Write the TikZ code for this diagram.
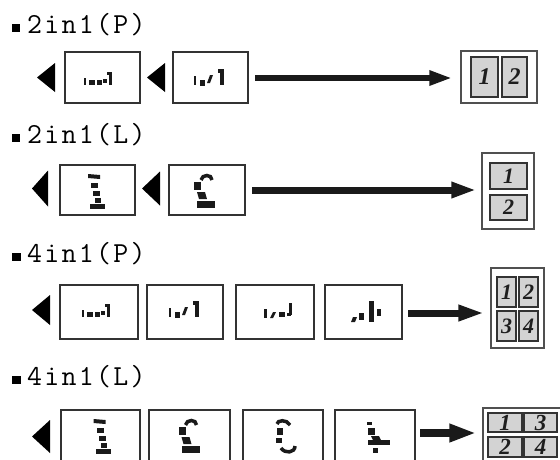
\documentclass[tikz,border=0pt]{standalone}
\usepackage{fontspec}
\setmainfont{Liberation Serif}
\newfontfamily\monof[LetterSpace=8]{Latin Modern Mono}
\usetikzlibrary{arrows.meta}
\definecolor{pagec}{HTML}{333333}
\definecolor{sheetc}{HTML}{505050}
\definecolor{panelc}{HTML}{333333}
\definecolor{panelf}{HTML}{D3D3D3}
\definecolor{numc}{HTML}{1E1E1E}
\definecolor{inkc}{HTML}{1A1A1A}

% page content marks (portrait pages)
\newcommand{\mkPone}{%
 \fill (-17,-2) rectangle (-15,5);
 \fill (-12,0) rectangle (-6,5);
 \fill (-4,0) rectangle (1,5);
 \fill (2,-1) rectangle (6,3);
 \fill (8,-8) rectangle (11,5);
 \fill (6,-8) rectangle (9,-5);}
\newcommand{\mkPtwo}{%
 \fill (-16,-4) rectangle (-14,5);
 \fill (-10,0) rectangle (-5,6);
 \fill (-3,3) -- (0,3) -- (3,-5) -- (0,-5) -- cycle;
 \fill (10,-11) rectangle (14,5);
 \fill (8,-11) rectangle (11,-7);}
\newcommand{\mkPthree}{%
 \fill (-13,-3) rectangle (-10,6);
 \fill (-7,6) -- (-4,6) -- (-1,0) -- (-4,0) -- cycle;
 \fill (2,0) rectangle (8,5);
 \fill (12,-9) rectangle (15,3);
 \fill (10,1) rectangle (14,4);}
\newcommand{\mkPfour}{%
 \fill (-13,10) -- (-9,10) -- (-7,5) -- (-11,5) -- cycle;
 \fill (-5,1) rectangle (0,8);
 \fill (5,-11) rectangle (10,10);
 \fill (13,-3) rectangle (17,4);}
% landscape page marks, relative to the top centre of the page
\newcommand{\mkLone}{%
 \fill (-7,9) -- (5,10) -- (5,14) -- (-7,13) -- cycle;
 \fill (-4,18) rectangle (3,23);
 \fill (-2,26) rectangle (5,31);
 \fill (0,33) rectangle (6,38);
 \fill (-5,39) rectangle (10,44);}
\newcommand{\mkLtwo}{%
 \draw[inkc, line width=3.5pt] (-3,15) .. controls (-2,9) and (8,9) .. (8,15);
 \fill (-10,17) rectangle (-3,25);
 \fill (-7,27) -- (1,27) -- (3,34) -- (-5,34) -- cycle;
 \fill (-7,36) rectangle (11,43);}
\newcommand{\mkLthree}{%
 \draw[inkc, line width=3.5pt] (7,15) .. controls (4,9) and (-6,10) .. (-6,14);
 \fill (-6,18) rectangle (0,25);
 \fill (-7,28) rectangle (-1,33);
 \draw[inkc, line width=3.5pt] (-2,38) .. controls (2,44) and (12,43) .. (12,36);}
\newcommand{\mkLfour}{%
 \fill (-8,12) rectangle (-3,15);
 \fill (-7,18) rectangle (0,25);
 \fill (-4,26) -- (4,26) -- (6,30) -- (-2,30) -- cycle;
 \fill (-7,30) rectangle (15,35);
 \fill (-2,38) rectangle (3,43);}
\newcommand{\lefttri}[4]{\fill[shift={(#1,#2)}] (#3,-#4/2) -- (0,0) -- (#3,#4/2) -- cycle;}

\begin{document}
\begin{tikzpicture}[x=1pt,y=-1pt,
  page/.style={draw=pagec, line width=1.4pt, fill=white, inner sep=0pt},
  sheet/.style={draw=sheetc, line width=1.5pt, fill=white, inner sep=0pt},
  panel/.style={draw=panelc, line width=1.5pt, fill=panelf, inner sep=0pt,
    text=numc, font=\bfseries\itshape\fontsize{#1}{#1}\selectfont},
  panel/.default=23,
  title/.style={anchor=base west, inner sep=0pt, font=\monof\fontsize{29}{29}\selectfont},
  bullet/.style={fill=black},
  bigarrow/.style={line width=#1, draw=inkc},
  ink/.style={fill=inkc}]
\useasboundingbox (0,0) rectangle (560,459);
\clip (0,0) rectangle (560,459);

% ---------- Row 1: 2in1(P)
\fill[bullet] (12,24) rectangle (20,32);
\node[title] (t1) at (27,33) {2in1(P)};
\lefttri{37}{77.5}{18}{29}
\node[page, minimum width=75pt, minimum height=51pt] (b11) at (102.5,77.5) {};
\lefttri{147}{77.5}{18}{29}
\node[page, minimum width=75pt, minimum height=51pt] (b12) at (210.5,77.5) {};
\begin{scope}[shift={(101,80)}, ink] \mkPone \end{scope}
\begin{scope}[shift={(210,80)}, ink] \mkPtwo \end{scope}
\node[sheet, minimum width=76pt, minimum height=52pt] (r1) at (499,77) {};
\node[panel=24, minimum width=27pt, minimum height=40pt] (r1a) at (484.5,77) {1};
\node[panel=24, minimum width=25pt, minimum height=40pt] (r1b) at (514.5,77) {2};
\coordinate (s1) at (255,78);
\coordinate (e1) at (r1.west);
\draw[bigarrow=6pt, -{Triangle[length=23pt,width=14pt]}] (s1) -- ([xshift=-8pt]e1 |- s1);

% ---------- Row 2: 2in1(L)
\fill[bullet] (12,134) rectangle (20,142);
\node[title] (t2) at (27,143) {2in1(L)};
\lefttri{32}{188.5}{16}{36}
\node[page, minimum width=75pt, minimum height=50pt] (b21) at (97.5,190) {};
\lefttri{142}{188.5}{18}{34}
\node[page, minimum width=76pt, minimum height=50pt] (b22) at (207,190) {};
\begin{scope}[shift={(95,165)}, ink] \mkLone \end{scope}
\begin{scope}[shift={(204,165)}, ink] \mkLtwo \end{scope}
\node[sheet, minimum width=52pt, minimum height=76pt] (r2) at (508,191) {};
\node[panel=22, minimum width=37pt, minimum height=26pt] (r2a) at (508.5,176) {1};
\node[panel=22, minimum width=37pt, minimum height=25pt] (r2b) at (508.5,207.5) {2};
\coordinate (s2) at (252,190);
\draw[bigarrow=7pt, -{Triangle[length=25pt,width=15pt]}] (s2) -- ([xshift=-5pt]r2.west |- s2);

% ---------- Row 3: 4in1(P)
\fill[bullet] (12,253) rectangle (21,261);
\node[title] (t3) at (27,262) {4in1(P)};
\lefttri{32}{310}{18}{30}
\node[page, minimum width=78pt, minimum height=54pt] (b31) at (99,312) {};
\node[page, minimum width=76pt, minimum height=54pt] (b32) at (185,312) {};
\node[page, minimum width=78pt, minimum height=54pt] (b33) at (275,312) {};
\node[page, minimum width=77pt, minimum height=54pt] (b34) at (363.5,312) {};
\begin{scope}[shift={(99,312)}, ink] \mkPone \end{scope}
\begin{scope}[shift={(185,312)}, ink] \mkPtwo \end{scope}
\begin{scope}[shift={(277,312)}, ink] \mkPthree \end{scope}
\begin{scope}[shift={(364,312)}, ink] \mkPfour \end{scope}
\node[sheet, minimum width=53pt, minimum height=80pt] (r3) at (517.5,308) {};
\node[panel=22, minimum width=19pt, minimum height=30pt] (r3a) at (506.5,292) {1};
\node[panel=22, minimum width=19pt, minimum height=30pt] (r3b) at (528.5,292) {2};
\node[panel=22, minimum width=19pt, minimum height=30pt] (r3c) at (506.5,326) {3};
\node[panel=22, minimum width=19pt, minimum height=30pt] (r3d) at (528.5,326) {4};
\coordinate (s3) at (408,313);
\draw[bigarrow=7pt, -{Triangle[length=26pt,width=15pt]}] (s3) -- ([xshift=-6pt]r3.west |- s3);

% ---------- Row 4: 4in1(L)
\fill[bullet] (12,376) rectangle (21,384);
\node[title] (t4) at (27,385) {4in1(L)};
\lefttri{32}{436.5}{18}{33}
\node[page, minimum width=79pt, minimum height=60pt] (b41) at (100.5,440) {};
\node[page, minimum width=81pt, minimum height=60pt] (b42) at (189.5,440) {};
\node[page, minimum width=80pt, minimum height=60pt] (b43) at (283,440) {};
\node[page, minimum width=80pt, minimum height=60pt] (b44) at (375,440) {};
\begin{scope}[shift={(100.5,410)}, ink] \mkLone \end{scope}
\begin{scope}[shift={(188.5,410)}, ink] \mkLtwo \end{scope}
\begin{scope}[shift={(283,410)}, ink] \mkLthree \end{scope}
\begin{scope}[shift={(375,410)}, ink] \mkLfour \end{scope}
\node[sheet, minimum width=82pt, minimum height=67pt] (r4) at (524,441.5) {};
\node[panel=23, minimum width=34pt, minimum height=19pt] (r4a) at (505,422.5) {1};
\node[panel=23, minimum width=33pt, minimum height=19pt] (r4b) at (540.5,422.5) {3};
\node[panel=23, minimum width=34pt, minimum height=20pt] (r4c) at (505,447) {2};
\node[panel=23, minimum width=33pt, minimum height=20pt] (r4d) at (540.5,447) {4};
\coordinate (s4) at (420,433);
\draw[bigarrow=8pt, -{Triangle[length=27pt,width=17pt]}] (s4) -- ([xshift=-6pt]r4.west |- s4);
\end{tikzpicture}
\end{document}
